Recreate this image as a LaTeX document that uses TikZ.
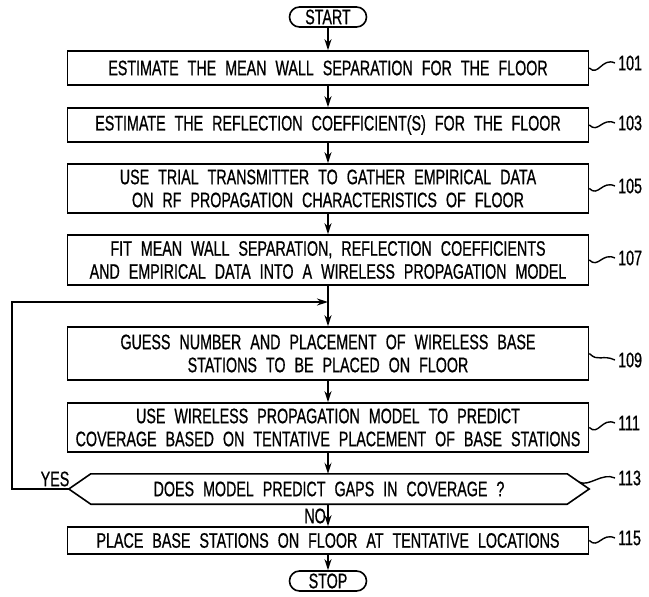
\documentclass[tikz,border=0pt]{standalone}
\usepackage{fontspec}
\setmainfont[FakeStretch=0.68,FakeBold=0.7]{Liberation Sans}
\usetikzlibrary{arrows.meta,calc}
\newcommand\diafont{\fontsize{21}{23}\selectfont\spaceskip 9pt plus 1pt\relax}
\begin{document}
\begin{tikzpicture}[x=1pt,y=-1pt,
  every node/.style={font=\diafont, inner sep=0pt},
  procbox/.style={draw, line width=1.6pt, minimum width=521pt, align=center},
  term/.style={draw, line width=1.6pt, rounded corners=10pt, minimum width=77pt, minimum height=20pt},
  flow/.style={line width=1.6pt, -{Stealth[length=11pt,width=7pt]}},
  lead/.style={line width=1.4pt},
  reflab/.style={anchor=west}
]
\useasboundingbox (0,0) rectangle (649,597);

\node[term] (start) at (328,17) {START};
\node[procbox, minimum height=34pt] (b101) at (328,68) {ESTIMATE THE MEAN WALL SEPARATION FOR THE FLOOR};
\node[procbox, minimum height=34pt] (b103) at (328,125) {ESTIMATE THE REFLECTION COEFFICIENT(S) FOR THE FLOOR};
\node[procbox, minimum height=49pt] (b105) at (328,188.5) {USE TRIAL TRANSMITTER TO GATHER EMPIRICAL DATA\\ON RF PROPAGATION CHARACTERISTICS OF FLOOR};
\node[procbox, minimum height=50pt] (b107) at (328,260) {FIT MEAN WALL SEPARATION, REFLECTION COEFFICIENTS\\AND EMPIRICAL DATA INTO A WIRELESS PROPAGATION MODEL};
\node[procbox, minimum height=53pt] (b109) at (328,353.5) {GUESS NUMBER AND PLACEMENT OF WIRELESS BASE\\STATIONS TO BE PLACED ON FLOOR};
\node[procbox, minimum height=49pt] (b111) at (328,427.5) {USE WIRELESS PROPAGATION MODEL TO PREDICT\\COVERAGE BASED ON TENTATIVE PLACEMENT OF BASE STATIONS};
\node[minimum width=520pt, minimum height=30pt] (dec) at (329,489) {DOES MODEL PREDICT GAPS IN COVERAGE ?};
\draw[line width=1.6pt] (dec.west) -- ([xshift=22pt]dec.north west) -- ([xshift=-22pt]dec.north east) -- (dec.east) -- ([xshift=-22pt]dec.south east) -- ([xshift=22pt]dec.south west) -- cycle;
\node[procbox, minimum height=27pt] (b115) at (328,540.5) {PLACE BASE STATIONS ON FLOOR AT TENTATIVE LOCATIONS};
\node[term] (stop) at (328,581) {STOP};

\draw[flow] (start) -- (b101);
\draw[flow] (b101) -- (b103);
\draw[flow] (b103) -- (b105);
\draw[flow] (b105) -- (b107);
\draw[flow] (b107) -- (b109);
\draw[flow] (b109) -- (b111);
\draw[flow] (b111.south) -- (b111.south |- dec.north);
\draw[flow] (b115.north |- dec.south) -- (b115.north);
\draw[flow] (b115) -- (stop);

\node[anchor=east] (lno) at (326,516) {NO};
\node (lyes) at (55,479) {YES};

\coordinate (join) at (328,302);
\coordinate (lc) at (12,302);
\draw[flow] (dec.west) -| (lc) -- (join);

\node[reflab] (l101) at (618,63) {101};
\node[reflab] (l103) at (618,123) {103};
\node[reflab] (l105) at (618,186) {105};
\node[reflab] (l107) at (618,258) {107};
\node[reflab] (l109) at (618,360) {109};
\node[reflab] (l111) at (618,423) {111};
\node[reflab] (l113) at (618,478) {113};
\node[reflab] (l115) at (618,538) {115};

\foreach \b/\l in {b101/l101,b103/l103,b105/l105,b107/l107,b109/l109,b111/l111,b115/l115}{
  \draw[lead] (\b.east) .. controls +(9,9) and +(-13,-6) .. ([xshift=-3pt]\l.west);
}
\coordinate (s113) at ($(dec.east)!0.45!([xshift=-22pt]dec.north east)$);
\draw[lead] (s113) .. controls +(10,5) and +(-13,-6) .. ([xshift=-3pt]l113.west);
\end{tikzpicture}
\end{document}
